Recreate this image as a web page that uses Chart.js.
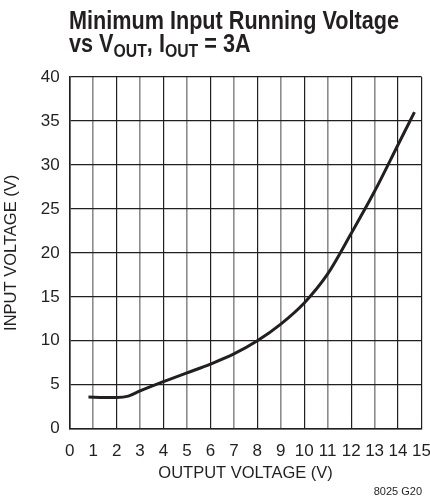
<!DOCTYPE html>
<html>
<head>
<meta charset="utf-8">
<script src="https://cdn.jsdelivr.net/npm/chart.js@4"></script>
<style>
    html, body { margin: 0; padding: 0; background: #fff; }
    #wrap { position: relative; width: 430px; height: 501px; }
</style>
</head>
<body>
<div id="wrap"><canvas id="myChart"></canvas></div>
<script>
// 曲線資料
const outputVoltage = [0.8, 1.5, 2, 2.5, 3, 3.5, 4, 5, 6, 7, 8, 9, 10, 11, 12, 13, 14, 14.7];
const inputVoltage = [3.6, 3.55, 3.55, 3.7, 4.3, 4.85, 5.35, 6.35, 7.35, 8.5, 10, 11.9, 14.3, 17.6, 22.2, 27.0, 32.3, 36];
const xTicks = [0, 1, 2, 3, 4, 5, 6, 7, 8, 9, 10, 11, 12, 13, 14, 15];
const yTicks = [0, 5, 10, 15, 20, 25, 30, 35, 40];

const FONT = '"Liberation Sans Narrow", "Liberation Sans", Arial, sans-serif';
const INK = '#231f20';

// 標題與圖號 (下標需自己畫)
const titlePlugin = {
    id: 'ltTitle',
    afterDraw(chart) {
        const ctx = chart.ctx;
        ctx.save();
        ctx.fillStyle = INK;
        ctx.textBaseline = 'alphabetic';
        ctx.font = 'bold 26px ' + FONT;
        const line1 = 'Minimum Input Running Voltage';
        const sx = 330 / ctx.measureText(line1).width;
        ctx.translate(69, 0);
        ctx.scale(sx, 1);
        ctx.fillText(line1, 0, 28.5);

        const parts = [
            ['vs V', false], ['OUT', true], [', I', false], ['OUT', true], [' = 3A', false]
        ];
        let x = 0;
        parts.forEach(function (p) {
            ctx.font = p[1] ? 'bold 19px ' + FONT : 'bold 26px ' + FONT;
            ctx.fillText(p[0], x, p[1] ? 57 : 52);
            x += ctx.measureText(p[0]).width;
        });
        ctx.restore();

        ctx.save();
        ctx.fillStyle = INK;
        ctx.font = '11px ' + FONT;
        ctx.textAlign = 'right';
        ctx.fillText('8025 G20', 422, 495);
        ctx.restore();
    }
};

const points = outputVoltage.map(function (v, i) { return { x: v, y: inputVoltage[i] }; });

const ctx = document.getElementById('myChart').getContext('2d');
new Chart(ctx, {
    type: 'line',
    data: {
        datasets: [{
            data: points,
            borderColor: INK,
            borderWidth: 3,
            pointRadius: 0,
            fill: false,
            cubicInterpolationMode: 'monotone'
        }]
    },
    options: {
        responsive: true,
        maintainAspectRatio: false,
        animation: false,
        layout: { padding: { left: 0, top: 77, right: 8.5, bottom: 0 } },
        plugins: { legend: { display: false }, tooltip: { enabled: false }, title: { display: false } },
        scales: {
            x: {
                type: 'linear',
                min: 0,
                max: 15,
                afterBuildTicks: function (axis) { axis.ticks = xTicks.map(function (v) { return { value: v }; }); },
                afterFit: function (axis) {
                    axis.height = 72.3;
                    // 不讓標籤寬度推擠繪圖區
                    axis.paddingLeft = 0;
                    axis.paddingRight = 0;
                },
                ticks: { color: INK, font: { family: FONT, size: 17 }, padding: 12, maxRotation: 0, autoSkip: false },
                grid: {
                    drawTicks: false,
                    color: function (c) { return (c.tick.value % 2 === 1 && c.tick.value !== 15) ? '#8c8c8c' : INK; },
                    lineWidth: function (c) { return (c.tick.value % 2 === 1 && c.tick.value !== 15) ? 1.6 : 1.2; }
                },
                border: { color: INK, width: 1.6 },
                title: { display: true, text: 'OUTPUT VOLTAGE (V)', color: INK, font: { family: FONT, size: 16.5 }, padding: { top: 0, bottom: 18 } }
            },
            y: {
                min: 0,
                max: 40,
                afterBuildTicks: function (axis) { axis.ticks = yTicks.map(function (v) { return { value: v }; }); },
                afterFit: function (axis) { axis.width = 69.7; },
                ticks: { color: INK, font: { family: FONT, size: 17 }, padding: 10 },
                grid: { drawTicks: false, color: INK, lineWidth: 1.2 },
                border: { color: INK, width: 1.6 },
                title: { display: true, text: 'INPUT VOLTAGE (V)', color: INK, font: { family: FONT, size: 16.5 }, padding: { top: 2, bottom: 0 } }
            }
        }
    },
    plugins: [titlePlugin]
});
</script>
</body>
</html>
